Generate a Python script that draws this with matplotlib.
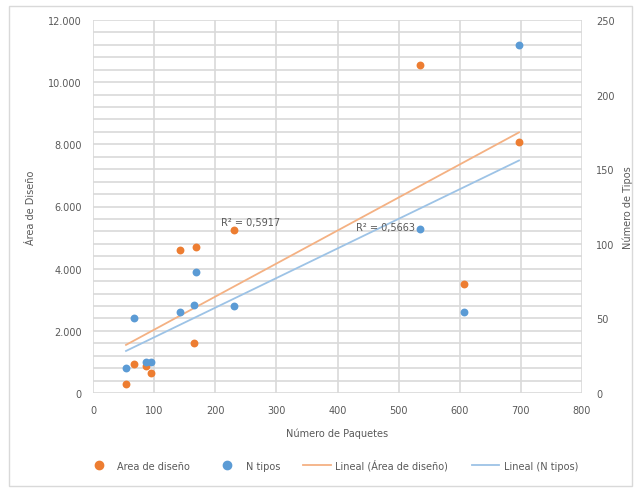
import numpy as np
import matplotlib
matplotlib.use("Agg")
import matplotlib.pyplot as plt
from matplotlib.ticker import MultipleLocator, FuncFormatter
from matplotlib.lines import Line2D
from matplotlib.patches import FancyBboxPatch

# Datos
paquetes = [54, 67, 86, 95, 143, 166, 168, 230, 535, 607, 697]
area_diseno = [300, 920, 860, 640, 4590, 1620, 4690, 5250, 10560, 3500, 8060]
n_tipos = [16.5, 50, 21, 21, 54, 59, 81, 58, 110, 54, 233]
r2_area = "R² = 0,5917"
r2_tipos = "R² = 0,5663"

naranja = "#ED7D31"
azul = "#5B9BD5"
gris_txt = "#595959"
gris_rej = "#D9D9D9"

fig = plt.figure(figsize=(6.39, 4.89), dpi=100)
fig.patches.append(FancyBboxPatch((9 / 639, 1 - 487 / 489), 623 / 639, 480 / 489,
                                  boxstyle="square,pad=0", transform=fig.transFigure,
                                  fill=False, edgecolor=gris_rej, linewidth=1))
ax = fig.add_axes([93 / 639, 1 - 394 / 489, 489 / 639, 373 / 489])
ax2 = ax.twinx()

x = np.array(paquetes, dtype=float)
ya = np.array(area_diseno, dtype=float)
yb = np.array(n_tipos, dtype=float)

# Líneas de tendencia (regresión lineal)
pa = np.polyfit(x, ya, 1)
pb = np.polyfit(x, yb, 1)
xt = np.array([x.min(), x.max()])

ax.plot(xt, np.polyval(pa, xt), color="#F4B183", linewidth=1.3, zorder=2)
ax.scatter(x, ya, s=32, color=naranja, zorder=3, linewidths=0)
ax2.plot(xt, np.polyval(pb, xt), color="#9DC3E6", linewidth=1.3, zorder=2)
ax2.scatter(x, yb, s=32, color=azul, zorder=3, linewidths=0)

ax.set_xlim(0, 800)
ax.set_ylim(0, 12000)
ax2.set_ylim(0, 250)
ax.xaxis.set_major_locator(MultipleLocator(100))
ax.yaxis.set_major_locator(MultipleLocator(2000))
ax.yaxis.set_minor_locator(MultipleLocator(400))
ax2.yaxis.set_major_locator(MultipleLocator(50))
ax.yaxis.set_major_formatter(FuncFormatter(lambda v, p: f"{int(v):,}".replace(",", ".")))

ax.grid(True, which="both", axis="y", color=gris_rej, linewidth=1.2)
ax.grid(True, which="major", axis="x", color=gris_rej, linewidth=1.2)
ax.set_axisbelow(True)

for a in (ax, ax2):
    for s in a.spines.values():
        s.set_visible(False)
    a.tick_params(which="both", length=0, labelsize=7, labelcolor=gris_txt)
ax.tick_params(axis="y", pad=8)
ax.tick_params(axis="x", pad=9)
ax2.tick_params(axis="y", pad=10)

ax.set_xlabel("Número de Paquetes", fontsize=7, color=gris_txt, labelpad=9)
ax.set_ylabel("Área de Diseño", fontsize=7, color=gris_txt, labelpad=9)
ax2.set_ylabel("Número de Tipos", fontsize=7, color=gris_txt, labelpad=6, rotation=90)

ax.text(210, 5350, r2_area, fontsize=7, color=gris_txt, ha="left", va="bottom")
ax2.text(430, 111, r2_tipos, fontsize=7, color=gris_txt, ha="left", va="center")

handles = [
    Line2D([], [], linestyle="none", marker="o", markersize=6, color=naranja),
    Line2D([], [], linestyle="none", marker="o", markersize=6, color=azul),
    Line2D([], [], color="#F4B183", linewidth=1.3),
    Line2D([], [], color="#9DC3E6", linewidth=1.3),
]
labels = ["Area de diseño", "N tipos", "Lineal (Área de diseño)", "Lineal (N tipos)"]
fig.legend(handles, labels, loc="center", bbox_to_anchor=(0.519, 1 - 466 / 489), ncol=4,
           frameon=False, fontsize=7, labelcolor=gris_txt, columnspacing=2.4,
           handlelength=2.8, handletextpad=0.5)

fig.savefig("out.png", dpi=100)
